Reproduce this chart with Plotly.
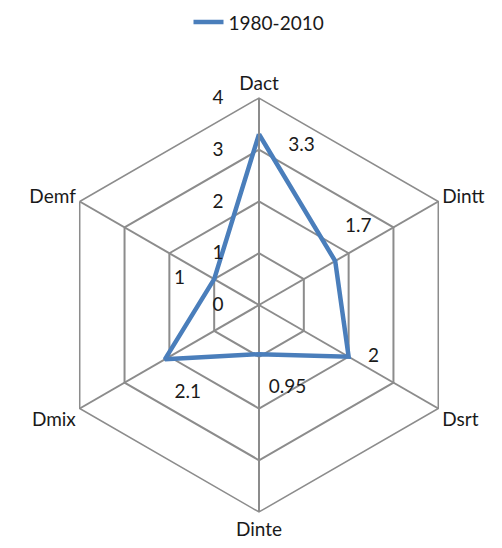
import plotly.graph_objects as go

categories = ["Dact", "Dintt", "Dsrt", "Dinte", "Dmix", "Demf"]
values = [3.3, 1.7, 2, 0.95, 2.1, 1]
value_labels = ["3.3", "1.7", "2", "0.95", "2.1", "1"]
label_pos = ["middle right", "top right", "middle right", "bottom right", "bottom right", "middle left"]
radial_ticks = [0, 1, 2, 3, 4]

blue = "#4a7ebb"
grid = "#8c8c8c"
font = "Lato"

# pad the data labels away from their points, like Excel does
nb = "\u00a0"
padded = [nb + "<br>" + nb * 6 + value_labels[0],
          nb * 2 + value_labels[1] + "<br>" + nb,
          nb * 4 + value_labels[2],
          nb + "<br>" + nb * 2 + value_labels[3],
          nb + "<br>" + nb * 2 + value_labels[4],
          value_labels[5] + nb * 6]

fig = go.Figure()
fig.add_trace(go.Scatterpolar(
    r=values + values[:1],
    theta=categories + categories[:1],
    mode="lines",
    line=dict(color=blue, width=4.5),
    name="1980-2010",
))
fig.add_trace(go.Scatterpolar(
    r=values,
    theta=categories,
    mode="text",
    text=padded,
    textposition=label_pos,
    textfont=dict(size=19, color="#1a1a1a", family=font),
    showlegend=False,
))

fig.update_layout(
    width=502, height=548,
    margin=dict(l=44, r=44, t=90, b=44, autoexpand=False),
    paper_bgcolor="white",
    font=dict(family=font, size=19, color="#1a1a1a"),
    showlegend=True,
    legend=dict(orientation="h", x=0.5, xanchor="center", y=0.974,
                yanchor="middle", yref="container", font=dict(size=19)),
    polar=dict(
        bgcolor="white",
        gridshape="linear",
        angularaxis=dict(direction="clockwise", rotation=90,
                         categoryorder="array", categoryarray=categories,
                         linecolor=grid, linewidth=1.5,
                         gridcolor=grid, gridwidth=1.5,
                         ticks="", tickfont=dict(size=19)),
        radialaxis=dict(range=[0, 4], tickvals=radial_ticks, angle=90,
                        side="counterclockwise", tickangle=90,
                        showline=True, linecolor=grid, linewidth=1.5,
                        gridcolor=grid, gridwidth=1.5,
                        ticks="outside", ticklen=28, tickcolor="rgba(0,0,0,0)",
                        tickfont=dict(size=19)),
    ),
)

fig.write_html("out.html")
